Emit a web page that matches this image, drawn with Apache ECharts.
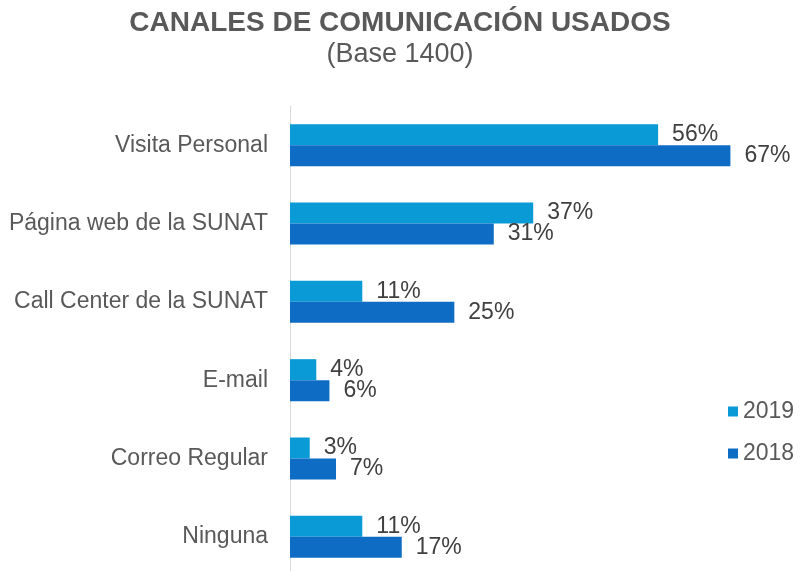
<!DOCTYPE html>
<html>
<head>
<meta charset="utf-8">
<script src="https://cdn.jsdelivr.net/npm/echarts@6/dist/echarts.min.js"></script>
<style>
  html, body { margin: 0; padding: 0; background: #fff; }
  #chart { width: 800px; height: 571px; }
</style>
</head>
<body>
<div id="chart"></div>
<script>
var categories = ['Visita Personal', 'Página web de la SUNAT', 'Call Center de la SUNAT', 'E-mail', 'Correo Regular', 'Ninguna'];
var values2019 = [56, 37, 11, 4, 3, 11];
var values2018 = [67, 31, 25, 6, 7, 17];

var chart = echarts.init(document.getElementById('chart'));
var font = 'Liberation Sans, Arial, sans-serif';

var labelStyle = {
    show: true,
    position: 'right',
    distance: 14,
    formatter: '{c}%',
    color: '#404040',
    fontSize: 23,
    fontFamily: font
};

var option = {
    animation: false,
    title: {
        text: 'CANALES DE COMUNICACIÓN USADOS',
        subtext: '(Base 1400)',
        left: 'center',
        top: 4,
        itemGap: 4,
        textStyle: {
            color: '#595959',
            fontSize: 28,
            fontWeight: 'bold',
            fontFamily: font
        },
        subtextStyle: {
            color: '#595959',
            fontSize: 27,
            fontFamily: font
        }
    },
    legend: {
        orient: 'vertical',
        left: 728,
        top: 400,
        padding: 0,
        itemWidth: 10,
        itemHeight: 10,
        itemGap: 19,
        icon: 'rect',
        data: ['2019', '2018'],
        textStyle: {
            color: '#595959',
            fontSize: 23,
            fontFamily: font
        }
    },
    grid: {
        left: 290,
        right: 17,
        top: 106,
        height: 470,
        outerBoundsMode: 'none'
    },
    xAxis: {
        type: 'value',
        min: 0,
        max: 75,
        show: false
    },
    yAxis: {
        type: 'category',
        inverse: true,
        data: categories,
        axisLine: { show: true, lineStyle: { color: '#d9d9d9' } },
        axisTick: { show: false },
        axisLabel: {
            margin: 22,
            color: '#595959',
            fontSize: 23,
            fontFamily: font
        }
    },
    series: [{
        name: '2019',
        type: 'bar',
        data: values2019,
        barWidth: 21,
        barGap: '0%',
        itemStyle: { color: '#0a9ad6' },
        label: labelStyle
    }, {
        name: '2018',
        type: 'bar',
        data: values2018,
        barWidth: 21,
        barGap: '0%',
        itemStyle: { color: '#0f6cc4' },
        label: labelStyle
    }]
};
chart.setOption(option);
</script>
</body>
</html>
